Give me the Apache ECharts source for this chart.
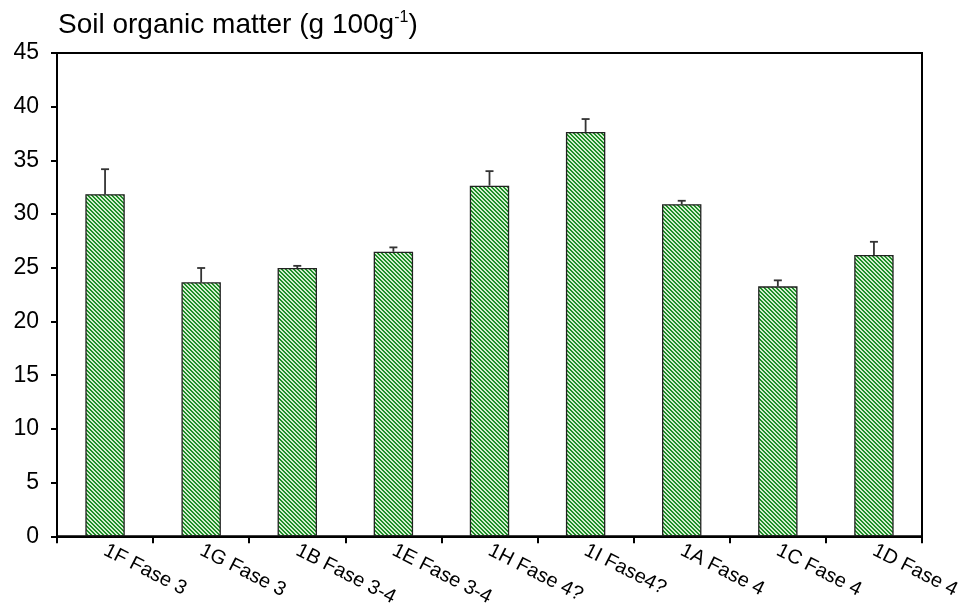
<!DOCTYPE html>
<html><head><meta charset="utf-8">
<script src="https://cdn.jsdelivr.net/npm/echarts@6/dist/echarts.min.js"></script>
<style>html,body{margin:0;padding:0;background:#fff}#c{width:969px;height:609px}</style>
</head><body><div id="c"></div>
<script>
const categories = ['1F Fase 3','1G Fase 3','1B Fase 3-4','1E Fase 3-4','1H Fase 4?','1I Fase4?','1A Fase 4','1C Fase 4','1D Fase 4'];
const means = [31.85, 23.65, 24.98, 26.5, 32.65, 37.65, 30.92, 23.27, 26.2];
const errors = [2.33, 1.33, 0.2, 0.4, 1.35, 1.2, 0.32, 0.56, 1.22];
const yTicks = [0, 45, 5];

// diagonal hatch pattern
const pc = document.createElement('canvas');
pc.width = 4; pc.height = 4;
const pctx = pc.getContext('2d');
pctx.fillStyle = '#d4eed0'; pctx.fillRect(0,0,4,4);
pctx.fillStyle = '#1e8f27';
for (let i = 0; i < 4; i++) { pctx.fillRect(i, i, 1, 1); pctx.fillRect((i+1)%4, i, 1, 1); }

const chart = echarts.init(document.getElementById('c'));
chart.setOption({
  animation: false,
  title: {
    text: '{a|Soil organic matter (g 100g}{s|-1}{a|)}',
    left: 53, top: 5,
    textStyle: { rich: {
      a: { fontFamily: 'Liberation Sans', fontSize: 28, fontWeight: 'normal', color: '#000' },
      s: { fontFamily: 'Liberation Sans', fontSize: 16, fontWeight: 'normal', color: '#000', verticalAlign: 'top', padding: [0,0,14,0] }
    } }
  },
  grid: { left: 57, right: 47, top: 53, bottom: 72, show: true, borderColor: '#000', borderWidth: 2, backgroundColor: 'transparent' },
  xAxis: {
    type: 'category', data: categories,
    axisLine: { lineStyle: { color: '#000', width: 2 } },
    axisTick: { show: true, alignWithLabel: false, length: 7, lineStyle: { color: '#000', width: 2 } },
    axisLabel: { rotate: -27, fontFamily: 'Liberation Sans', fontSize: 20, color: '#000', margin: 13, interval: 0 }
  },
  yAxis: {
    type: 'value', min: yTicks[0], max: yTicks[1], interval: yTicks[2],
    splitLine: { show: false },
    axisLine: { show: true, lineStyle: { color: '#000', width: 2 } },
    axisTick: { show: true, length: 6, lineStyle: { color: '#000', width: 2 } },
    axisLabel: { fontFamily: 'Liberation Sans', fontSize: 23, color: '#000', margin: 18 }
  },
  series: [
    {
      type: 'bar', data: means, barWidth: '41%',
      itemStyle: { color: { image: pc, repeat: 'repeat' }, borderColor: '#222', borderWidth: 1.3 }
    },
    {
      type: 'custom', z: 1,
      data: means.map((m, i) => [i, m, errors[i]]),
      renderItem: function (params, api) {
        const i = api.value(0), m = api.value(1), e = api.value(2);
        const p0 = api.coord([i, m]);
        const p1 = api.coord([i, m + e]);
        const st = { stroke: '#333', lineWidth: 1.8 };
        return { type: 'group', children: [
          { type: 'line', shape: { x1: p0[0], y1: p0[1], x2: p1[0], y2: p1[1] }, style: st },
          { type: 'line', shape: { x1: p1[0]-4, y1: p1[1], x2: p1[0]+4, y2: p1[1] }, style: st }
        ] };
      }
    }
  ]
});
</script></body></html>
